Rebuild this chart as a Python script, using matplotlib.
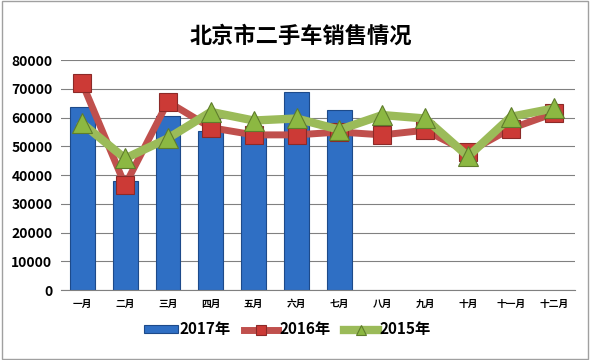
import matplotlib

matplotlib.use("Agg")
import matplotlib.pyplot as plt
import numpy as np

plt.rcParams["font.family"] = ["Noto Sans CJK SC", "DejaVu Sans"]

months = ["一月", "二月", "三月", "四月", "五月", "六月",
          "七月", "八月", "九月", "十月", "十一月", "十二月"]
sales_2017 = [63800, 38000, 60500, 55500, 54500, 69000, 62600]
sales_2016 = [72000, 36500, 65500, 56500, 54000, 54000, 55000,
              54000, 55600, 48000, 56200, 61500]
sales_2015 = [58000, 45800, 52800, 62000, 59000, 59700, 55800,
              60900, 59700, 46500, 60300, 63200]
series_names = ["2017年", "2016年", "2015年"]

fig = plt.figure(figsize=(5.9, 3.6), dpi=100)
ax = fig.add_axes([0.103, 0.194, 0.872, 0.639])

x = np.arange(len(months))
bars = ax.bar(x[:len(sales_2017)], sales_2017, width=0.58, color="#2f6fc4",
              edgecolor="#1d4a8a", linewidth=0.8, label=series_names[0], zorder=2)
line16, = ax.plot(x, sales_2016, color="#c0504d", lw=5, marker="s", markersize=13,
                  markerfacecolor="#cc3a36", markeredgecolor="#8c2a28",
                  markeredgewidth=0.8, label=series_names[1], zorder=3)
line15, = ax.plot(x, sales_2015, color="#9bbb59", lw=6, marker="^", markersize=14,
                  markerfacecolor="#8cb842", markeredgecolor="#5f7d2c",
                  markeredgewidth=0.8, label=series_names[2], zorder=4)

ax.set_xlim(-0.5, len(months) - 0.5)
ax.set_ylim(0, 80000)
ax.set_yticks(range(0, 80001, 10000))
ax.set_yticklabels([str(v) for v in range(0, 80001, 10000)], fontsize=10, fontweight="bold")
ax.set_xticks(x)
ax.set_xticklabels(months, fontsize=7, fontweight="bold")
ax.tick_params(length=0, pad=6)
ax.yaxis.grid(True, color="#808080", lw=0.8, zorder=0)
ax.set_axisbelow(True)
for side in ["top", "right", "left"]:
    ax.spines[side].set_visible(False)
ax.spines["bottom"].set_color("#808080")

fig.text(0.51, 0.9, "北京市二手车销售情况", ha="center", va="center",
         fontsize=16, fontweight="bold")
fig.legend([bars, line16, line15], series_names, loc="center",
           bbox_to_anchor=(0.487, 0.085), ncol=3, frameon=False,
           prop={"size": 11, "weight": "bold"}, handlelength=2.2, handleheight=0.45,
           markerscale=0.5, columnspacing=0.9, handletextpad=0.1)

border = plt.Rectangle((0.004, 0.004), 0.992, 0.992, transform=fig.transFigure,
                       fill=False, edgecolor="#a0a0a0", lw=1)
fig.patches.append(border)

fig.savefig("out.png", dpi=100)
